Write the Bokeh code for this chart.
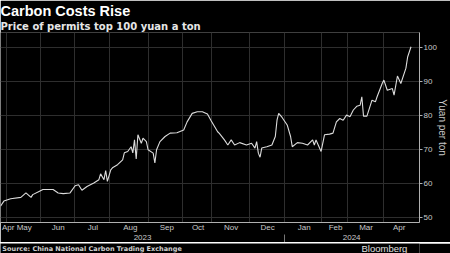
from bokeh.plotting import figure
from bokeh.layouts import column
from bokeh.models import (Range1d, LinearAxis, FixedTicker, Grid, Title)
from bokeh.core.properties import value
from bokeh.embed import file_html
from bokeh.resources import INLINE

# Trading-day index (x axis is in trading days, as on the Bloomberg chart)
day = [0, 2, 6, 12, 15, 18, 19, 23, 25, 31, 34, 37, 41, 44, 46, 48, 51, 55, 58, 59,
       61, 62, 63, 65, 66, 69, 72, 73, 75, 77, 78, 79, 80, 81, 83, 84, 86, 87, 90, 91,
       92, 94, 97, 100, 104, 108, 110, 113, 116, 119, 122, 124, 128, 129, 132, 134, 136, 138, 141, 145,
       148, 150, 151, 152, 153, 154, 157, 160, 162, 163, 164, 166, 169, 171, 172, 175, 178, 181, 184, 185,
       186, 189, 191, 194, 196, 198, 200, 202, 204, 206, 208, 210, 212, 213, 214, 216, 219, 221, 222, 225,
       226, 228, 231, 232, 234, 236, 239, 240, 242]
price = [53.4, 54.9, 55.6, 56.0, 57.3, 56.0, 56.8, 57.8, 58.3, 58.3, 57.3, 57.1, 57.3, 59.4, 59.7, 58.1, 59.2, 60.2, 61.2, 62.9,
         61.2, 63.9, 60.7, 64.1, 64.7, 65.6, 67.0, 69.1, 69.5, 70.9, 69.1, 72.9, 67.3, 74.4, 71.9, 73.4, 72.4, 70.0, 69.0, 66.1,
         70.0, 72.4, 73.9, 74.9, 75.0, 75.8, 78.2, 80.7, 81.2, 81.2, 80.5, 78.7, 75.3, 74.8, 72.9, 71.4, 72.9, 71.4, 72.1, 71.4,
         71.9, 70.5, 72.4, 69.0, 67.8, 70.5, 70.9, 71.4, 73.9, 78.7, 80.7, 79.5, 77.3, 73.9, 70.9, 72.1, 71.9, 71.4, 72.9, 71.4,
         72.9, 69.5, 74.4, 74.6, 74.9, 78.2, 79.2, 78.7, 80.2, 79.7, 81.7, 82.8, 83.1, 85.6, 79.9, 79.9, 84.6, 84.1, 85.6, 89.5,
         90.5, 87.5, 88.0, 86.1, 91.7, 89.5, 94.0, 97.3, 100.3]

month_labels = ["Apr", "May", "Jun", "Jul", "Aug", "Sep", "Oct", "Nov", "Dec", "Jan", "Feb", "Mar", "Apr"]
month_pos = [4.5, 14, 34, 54.5, 76.5, 98, 116.5, 136, 157.5, 179, 197.5, 215.5, 235]
month_bounds = [3.5, 23.5, 43.5, 64.5, 87.5, 107.5, 124.5, 146.5, 167.5, 189.5, 204.5, 225.5]
year_labels = ["2023", "2024"]
year_pos = [83.75, 207]
year_split = [167.5]
y_ticks = [50, 60, 70, 80, 90, 100]

title = "Carbon Costs Rise"
subtitle = "Price of permits top 100 yuan a ton"
source = "Source: China National Carbon Trading Exchange"
brand = "Bloomberg"

GRID = "#2e2e2e"
AXIS = "#b0b0b0"
TXT = "#c8c8c8"

p = figure(width=450, height=242, output_backend="svg", toolbar_location=None,
           x_range=Range1d(0, 247), y_range=Range1d(48.6, 104.5),
           x_axis_type=None, y_axis_type=None,
           min_border_left=0, min_border_right=0, min_border_top=32, min_border_bottom=19,
           background_fill_color="black", border_fill_color="black",
           outline_line_color=None)

p.add_layout(Grid(dimension=0, ticker=FixedTicker(ticks=month_bounds),
                  grid_line_color=GRID, grid_line_width=1))
p.add_layout(Grid(dimension=1, ticker=FixedTicker(ticks=y_ticks),
                  grid_line_color=GRID, grid_line_width=1))

yaxis = LinearAxis(ticker=FixedTicker(ticks=y_ticks), axis_label="Yuan per ton",
                   axis_line_color=AXIS, major_tick_line_color=AXIS,
                   major_tick_out=3, major_tick_in=0, minor_tick_out=0, minor_tick_in=0,
                   major_label_standoff=1,
                   major_label_text_font="Liberation Sans", major_label_text_font_size="8px",
                   major_label_text_color=TXT,
                   axis_label_text_font="Liberation Sans", axis_label_text_font_size="10px",
                   axis_label_text_font_style="normal", axis_label_text_color=TXT,
                   axis_label_standoff=-3)
p.add_layout(yaxis, "right")

xaxis = LinearAxis(ticker=FixedTicker(ticks=month_pos),
                   major_label_overrides=dict(zip(month_pos, month_labels)),
                   axis_line_color=AXIS, major_tick_out=0, major_tick_in=0,
                   minor_tick_out=0, minor_tick_in=0, major_label_standoff=0,
                   major_label_text_font="Liberation Sans", major_label_text_font_size="8px",
                   major_label_text_color=TXT)
p.add_layout(xaxis, "below")

yearaxis = LinearAxis(ticker=FixedTicker(ticks=year_pos, minor_ticks=year_split),
                      major_label_overrides=dict(zip(year_pos, year_labels)),
                      axis_line_color=None, major_tick_out=0, major_tick_in=0,
                      minor_tick_out=9, minor_tick_in=0, minor_tick_line_color="#777777",
                      major_label_standoff=-9,
                      major_label_text_font="Liberation Sans", major_label_text_font_size="8px",
                      major_label_text_color=TXT)
p.add_layout(yearaxis, "below")

p.add_layout(Title(text=subtitle, align="left",
                   text_font="DejaVu Sans", text_font_style="bold", text_font_size="10px",
                   text_color="#e6e6e6", standoff=1, offset=0), "above")
p.add_layout(Title(text=title, align="left",
                   text_font="Liberation Sans", text_font_style="bold", text_font_size="14.5px",
                   text_color="white", standoff=0, offset=0), "above")

p.line(day, price, line_color="#dcdcdc", line_width=1.1)

# footer strip: source note and brand
f = figure(width=450, height=11, output_backend="svg", toolbar_location=None,
           x_range=Range1d(0, 450), y_range=Range1d(0, 11),
           x_axis_type=None, y_axis_type=None, min_border=0,
           background_fill_color="black", border_fill_color="black",
           outline_line_color=None)
f.text(x=[2], y=[5.5], text=[source], text_font=value("DejaVu Sans"), text_font_style="bold",
       text_font_size="6.5px", text_color="#d0d0d0", text_baseline="alphabetic", text_align="left")
f.text(x=[437], y=[6.0], text=[brand], text_font=value("Liberation Sans"),
       text_font_size="9.5px", text_color="#e0e0e0", text_baseline="alphabetic", text_align="right")

layout = column(p, f, spacing=0)
open("out.html", "w").write(file_html(layout, INLINE))
